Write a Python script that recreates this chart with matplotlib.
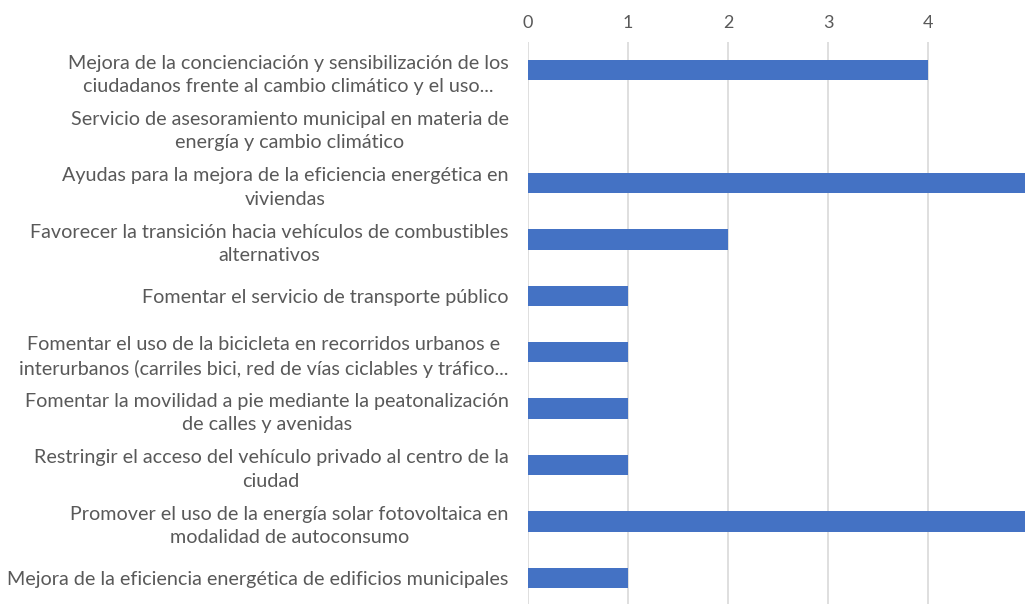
import matplotlib.pyplot as plt

# categories top to bottom, as they appear in the chart
categories = [
    "Mejora de la concienciación y sensibilización de los\nciudadanos frente al cambio climático y el uso...",
    "Servicio de asesoramiento municipal en materia de\nenergía y cambio climático",
    "Ayudas para la mejora de la eficiencia energética en\nviviendas",
    "Favorecer la transición hacia vehículos de combustibles\nalternativos",
    "Fomentar el servicio de transporte público",
    "Fomentar el uso de la bicicleta en recorridos urbanos e\ninterurbanos (carriles bici, red de vías ciclables y tráfico...",
    "Fomentar la movilidad a pie mediante la peatonalización\nde calles y avenidas",
    "Restringir el acceso del vehículo privado al centro de la\nciudad",
    "Promover el uso de la energía solar fotovoltaica en\nmodalidad de autoconsumo",
    "Mejora de la eficiencia energética de edificios municipales",
]
values = [4, 0, 5, 2, 1, 1, 1, 1, 5, 1]
x_ticks = [0, 1, 2, 3, 4]

plt.rcParams['font.family'] = ['Lato', 'DejaVu Sans']
text_color = "#595959"

fig = plt.figure(figsize=(10.25, 6.04), dpi=100)
ax = fig.add_axes([528 / 1025, -2 / 604, 500 / 1025, 564 / 604])

ypos = list(range(len(categories)))
ax.barh(ypos, values, height=0.36, color="#4472C4", linewidth=0, zorder=3)
ax.set_ylim(len(categories) - 0.5, -0.5)
ax.set_xlim(0, 5)

ax.set_xticks(x_ticks)
ax.xaxis.tick_top()
ax.tick_params(axis='x', length=0, pad=8, labelsize=13, labelcolor=text_color)
ax.grid(axis='x', color="#D9D9D9", linewidth=1.2, zorder=0)

ax.set_yticks(ypos)
ax.set_yticklabels(categories, fontsize=14.2, color=text_color,
                   multialignment='center', linespacing=1.45)
ax.tick_params(axis='y', length=0, pad=14)

for s in ax.spines.values():
    s.set_visible(False)

fig.savefig("out.png", dpi=100)
